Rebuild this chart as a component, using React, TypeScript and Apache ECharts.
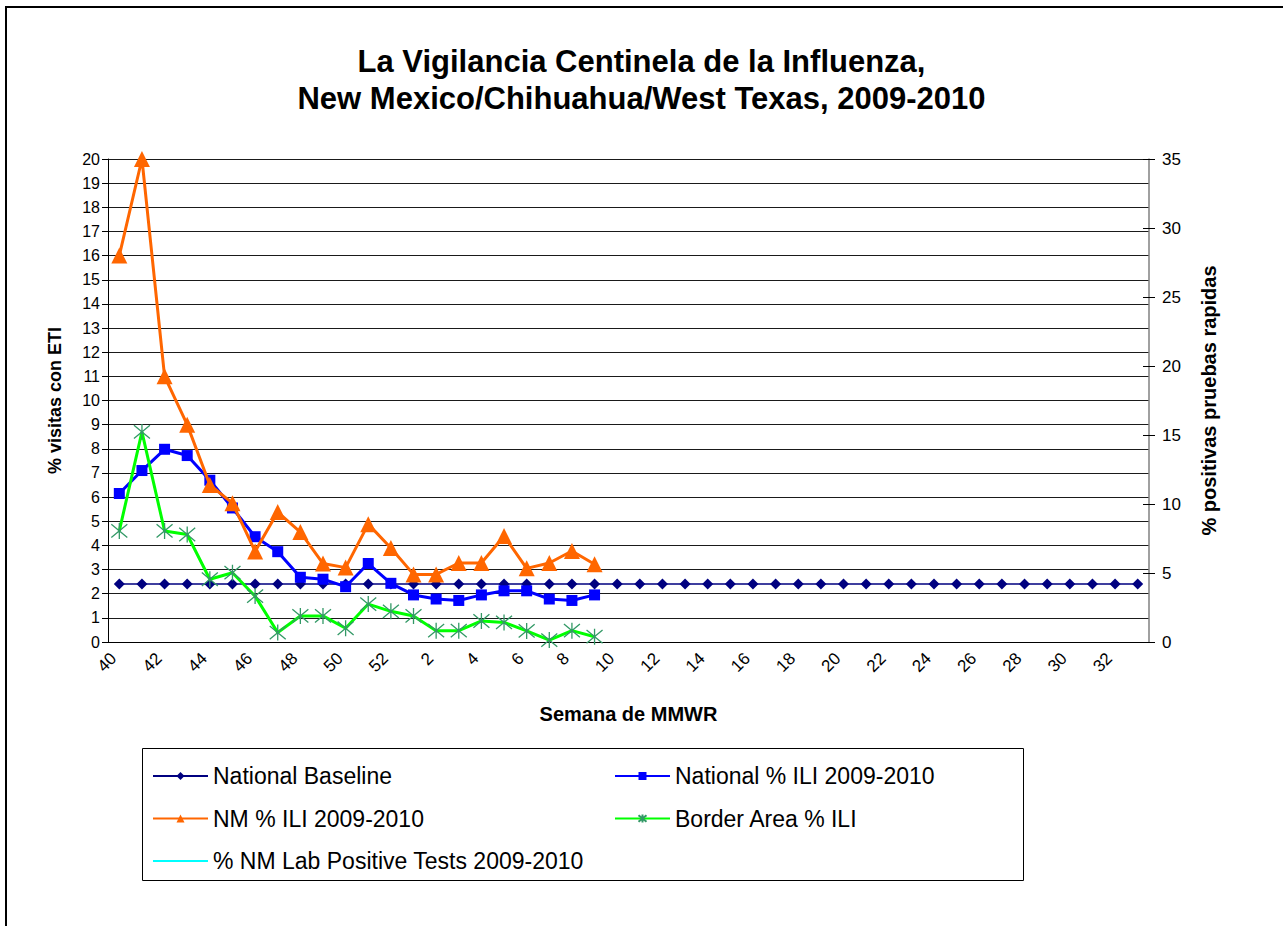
import React, { useEffect, useRef } from "react";
import * as echarts from "echarts";

const weeks: string[] = [
  "40", "41", "42", "43", "44", "45", "46", "47", "48", "49", "50", "51", "52",
  "1", "2", "3", "4", "5", "6", "7", "8", "9", "10", "11", "12", "13", "14", "15",
  "16", "17", "18", "19", "20", "21", "22", "23", "24", "25", "26", "27", "28",
  "29", "30", "31", "32", "33",
];

const nationalBaseline: number[] = [
  2.4, 2.4, 2.4, 2.4, 2.4, 2.4, 2.4, 2.4, 2.4, 2.4, 2.4, 2.4, 2.4,
  2.4, 2.4, 2.4, 2.4, 2.4, 2.4, 2.4, 2.4, 2.4, 2.4, 2.4, 2.4, 2.4, 2.4, 2.4,
  2.4, 2.4, 2.4, 2.4, 2.4, 2.4, 2.4, 2.4, 2.4, 2.4, 2.4, 2.4, 2.4,
  2.4, 2.4, 2.4, 2.4, 2.4,
];

const nationalIli: number[] = [
  6.15, 7.1, 7.98, 7.72, 6.7, 5.55, 4.36, 3.74, 2.68, 2.6, 2.29, 3.25, 2.43,
  1.95, 1.78, 1.72, 1.95, 2.12, 2.12, 1.78, 1.72, 1.95,
];

const nmIli: number[] = [
  16.0, 20.0, 11.0, 9.0, 6.5, 5.75, 3.75, 5.38, 4.55, 3.25, 3.08, 4.88, 3.89,
  2.8, 2.8, 3.27, 3.27, 4.39, 3.05, 3.27, 3.77, 3.22,
];

const borderIli: number[] = [
  4.6, 8.7, 4.6, 4.45, 2.6, 2.87, 1.9, 0.39, 1.08, 1.08, 0.57, 1.57, 1.27,
  1.08, 0.47, 0.47, 0.87, 0.81, 0.46, 0.08, 0.47, 0.22,
];

const labPositive: number[] = [];

const leftTicks = { min: 0, max: 20, interval: 1 };
const rightTicks = { min: 0, max: 35, interval: 5 };

const FONT = "'Liberation Sans', Arial, Helvetica, sans-serif";
const asterisk = "path://M0,0L10,10M10,0L0,10M5,-1L5,11";

export default function App() {
  const ref = useRef<HTMLDivElement>(null);

  useEffect(() => {
    if (!ref.current) return;
    const chart = echarts.init(ref.current, undefined, { renderer: "svg" });
    const legendText = { fontFamily: FONT, fontSize: 23, color: "#000", lineHeight: 24 };
    const option: any = {
      animation: false,
      backgroundColor: "#ffffff",
      textStyle: { fontFamily: FONT },
      title: {
        text: "La Vigilancia Centinela de la Influenza,\nNew Mexico/Chihuahua/West Texas, 2009-2010",
        left: "center",
        top: 38,
        textStyle: {
          fontFamily: FONT,
          fontSize: 31,
          fontWeight: "bold",
          color: "#000",
          lineHeight: 37,
        },
      },
      grid: { left: 108, right: 134, top: 159, bottom: 284, containLabel: false },
      legend: [
        {
          orient: "vertical",
          left: 147,
          top: 759,
          itemWidth: 55,
          itemHeight: 10,
          itemGap: 18.5,
          data: [
            "National Baseline",
            "NM % ILI 2009-2010",
            {
              name: "% NM Lab Positive Tests 2009-2010",
              itemStyle: { color: "transparent", borderColor: "transparent", borderWidth: 0 },
            },
          ],
          textStyle: legendText,
        },
        {
          orient: "vertical",
          left: 609,
          top: 759,
          itemWidth: 55,
          itemHeight: 10,
          itemGap: 18.5,
          data: ["National % ILI 2009-2010", "Border Area % ILI"],
          textStyle: legendText,
        },
      ],
      graphic: [
        {
          type: "rect",
          z: -10,
          silent: true,
          shape: { x: 6, y: 7, width: 1400, height: 1000 },
          style: { fill: "none", stroke: "#000", lineWidth: 2 },
        },
        {
          type: "rect",
          z: -5,
          silent: true,
          shape: { x: 142.5, y: 748.5, width: 881, height: 132 },
          style: { fill: "#fff", stroke: "#000", lineWidth: 1 },
        },
      ],
      xAxis: {
        type: "category",
        data: weeks,
        boundaryGap: true,
        name: "Semana de MMWR",
        nameLocation: "middle",
        nameGap: 62,
        nameTextStyle: { fontFamily: FONT, fontSize: 20, fontWeight: "bold", color: "#000" },
        axisLine: { lineStyle: { color: "#000", width: 1 } },
        axisTick: { interval: 0, length: 5, lineStyle: { color: "#000" } },
        axisLabel: {
          interval: 1,
          rotate: 45,
          margin: 8,
          padding: [0, 8, 0, 0],
          fontSize: 17,
          color: "#000",
          fontFamily: FONT,
        },
        splitLine: { show: false },
      },
      yAxis: [
        {
          type: "value",
          position: "left",
          min: leftTicks.min,
          max: leftTicks.max,
          interval: leftTicks.interval,
          name: "% visitas con ETI",
          nameLocation: "middle",
          nameRotate: 90,
          nameGap: 44,
          nameTextStyle: { fontFamily: FONT, fontSize: 18, fontWeight: "bold", color: "#000" },
          axisLine: { show: true, lineStyle: { color: "#000", width: 1 } },
          axisTick: { show: true, length: 6, lineStyle: { color: "#000" } },
          axisLabel: { fontSize: 16, color: "#000", margin: 8, fontFamily: FONT },
          splitLine: { show: true, lineStyle: { color: "#1a1a1a", width: 1 } },
        },
        {
          type: "value",
          position: "right",
          min: rightTicks.min,
          max: rightTicks.max,
          interval: rightTicks.interval,
          name: "% positivas pruebas rapidas",
          nameLocation: "middle",
          nameRotate: 90,
          nameGap: 50,
          nameTextStyle: { fontFamily: FONT, fontSize: 20, fontWeight: "bold", color: "#000" },
          axisLine: { show: true, lineStyle: { color: "#808080", width: 1.5 } },
          axisTick: { show: true, length: 6, lineStyle: { color: "#000" } },
          axisLabel: { fontSize: 17, color: "#000", margin: 13, fontFamily: FONT },
          splitLine: { show: false },
        },
        {
          type: "value",
          position: "right",
          min: rightTicks.min,
          max: rightTicks.max,
          interval: rightTicks.interval,
          axisLine: { show: false },
          axisTick: { show: true, inside: true, length: 6, lineStyle: { color: "#000" } },
          axisLabel: { show: false },
          splitLine: { show: false },
        },
      ],
      series: [
        {
          name: "National Baseline",
          type: "line",
          data: nationalBaseline,
          yAxisIndex: 0,
          symbol: "diamond",
          symbolSize: 11,
          showSymbol: true,
          showAllSymbol: true,
          z: 2,
          lineStyle: { color: "#000080", width: 1.5 },
          itemStyle: { color: "#000080" },
        },
        {
          name: "National % ILI 2009-2010",
          type: "line",
          data: nationalIli,
          yAxisIndex: 0,
          symbol: "rect",
          symbolSize: 11,
          showSymbol: true,
          showAllSymbol: true,
          z: 3,
          lineStyle: { color: "#0000ff", width: 3 },
          itemStyle: { color: "#0000ff" },
        },
        {
          name: "NM % ILI 2009-2010",
          type: "line",
          data: nmIli,
          yAxisIndex: 0,
          symbol: "triangle",
          symbolSize: 16,
          showSymbol: true,
          showAllSymbol: true,
          z: 4,
          lineStyle: { color: "#ff6600", width: 3 },
          itemStyle: { color: "#ff6600" },
        },
        {
          name: "Border Area % ILI",
          type: "line",
          data: borderIli,
          yAxisIndex: 0,
          symbol: asterisk,
          symbolSize: 16,
          showSymbol: true,
          showAllSymbol: true,
          z: 5,
          lineStyle: { color: "#00ff00", width: 3 },
          itemStyle: { color: "none", borderColor: "#339966", borderWidth: 1.3 },
        },
        {
          name: "% NM Lab Positive Tests 2009-2010",
          type: "line",
          data: labPositive,
          yAxisIndex: 1,
          symbol: "none",
          lineStyle: { color: "#00ffff", width: 3 },
          itemStyle: { color: "#00ffff" },
        },
      ],
    };
    chart.setOption(option);
    return () => {
      chart.dispose();
    };
  }, []);

  return (
    <div
      ref={ref}
      style={{ position: "fixed", left: 0, top: 0, width: 1283, height: 926 }}
    />
  );
}
